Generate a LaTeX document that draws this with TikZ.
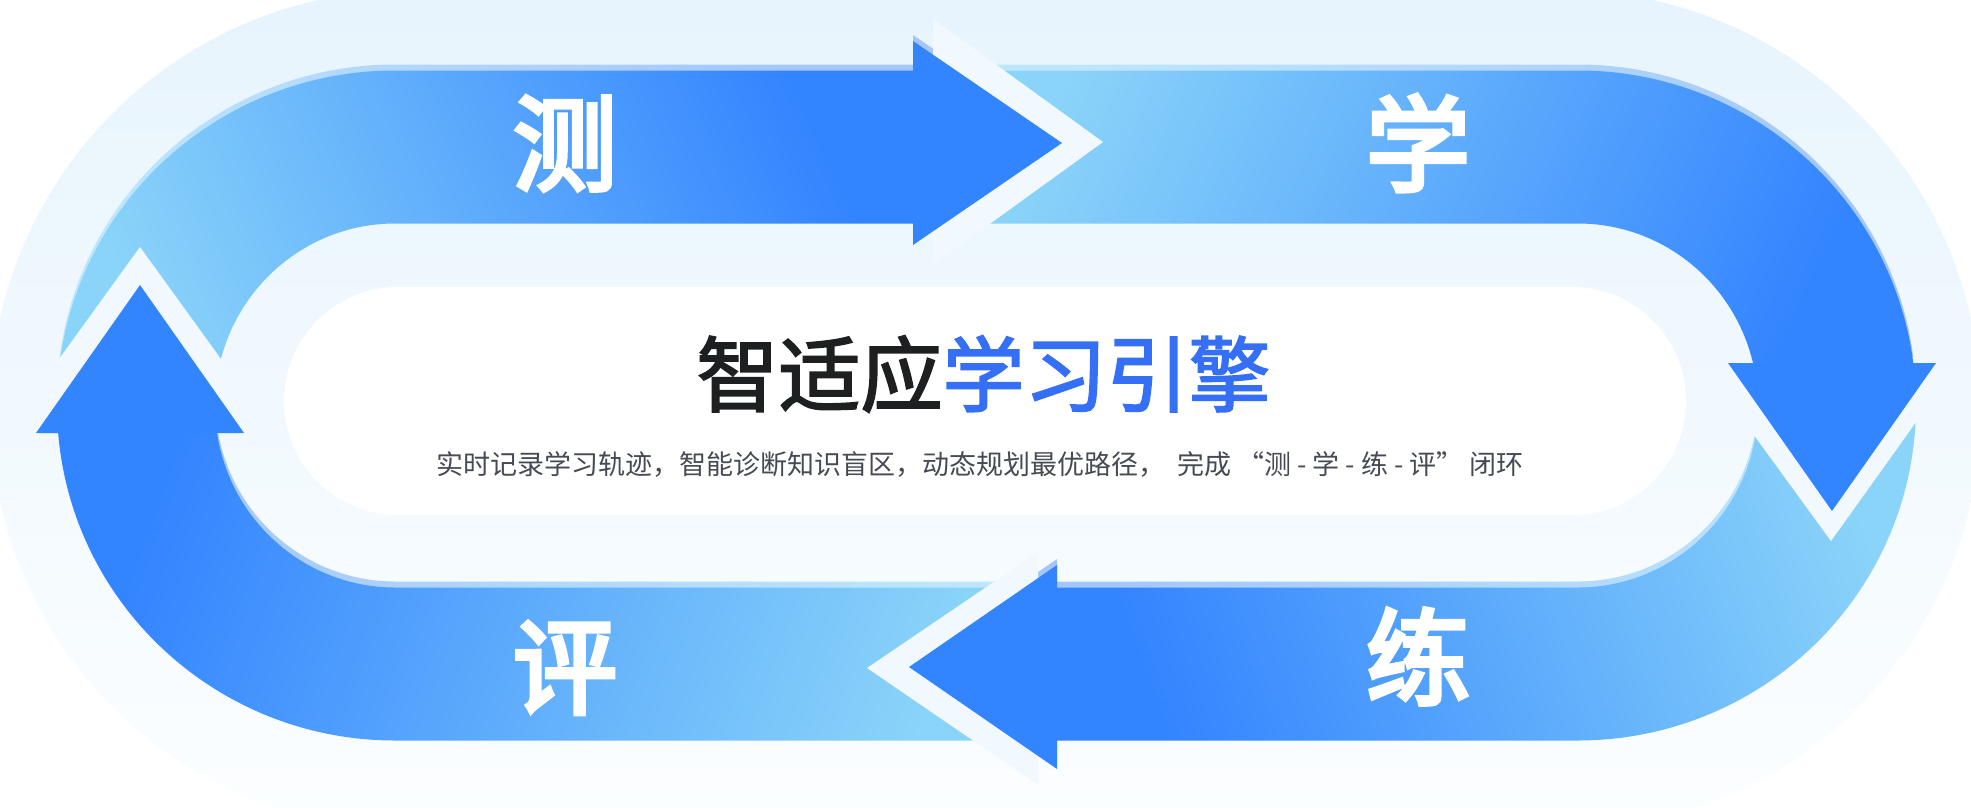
\documentclass[tikz,border=0pt]{standalone}
\usepackage{fontspec}
\newfontfamily\cjk{Noto Sans CJK SC}
\newfontfamily\cjklbl{Noto Sans CJK SC}[FakeBold=4.5]
\newfontfamily\cjkttl{Noto Sans CJK SC}[FakeBold=2.3]
\definecolor{bgtop}{HTML}{E7F4FD}
\definecolor{bgbot}{HTML}{FCFEFF}
\definecolor{cy}{HTML}{8AD4F9}
\definecolor{bl}{HTML}{3384FF}
\definecolor{hcy}{HTML}{BEE7FD}
\definecolor{hbl}{HTML}{A3C7FC}
\definecolor{halo}{HTML}{F2F9FE}
\definecolor{tblack}{HTML}{1E1F21}
\definecolor{tblue}{HTML}{356FF5}
\definecolor{tgray}{HTML}{474A54}
\tikzset{
  cepath/.style={insert path={(57,405.5) arc[start angle=180,end angle=270,x radius=338,y radius=335] -- (913,70.5) -- (913,223.5) -- (395,223.5) arc[start angle=270,end angle=180,x radius=180,y radius=182] -- cycle}},
  xuepath/.style={insert path={(933,70.5) -- (1578,70.5) arc[start angle=-90,end angle=-7.289,x radius=338,y radius=335] -- (1753.0,363) arc[start angle=-13.504,end angle=-90,x radius=180,y radius=182] -- (933,223.5) -- cycle}},
  lianpath/.style={insert path={(1915.2,383) arc[start angle=-3.851,end angle=90,x radius=338,y radius=335] -- (1057,740.5) -- (1057,587.5) -- (1578,587.5) arc[start angle=90,end angle=-7.101,x radius=180,y radius=182] -- cycle}},
  pingpath/.style={insert path={(1038,587.5) -- (1038,740.5) -- (395,740.5) arc[start angle=90,end angle=175.291,x radius=338,y radius=335] -- (217.1,433) arc[start angle=171.309,end angle=90,x radius=180,y radius=182] -- cycle}},
  cehead/.style={insert path={(913,41) -- (1062,143) -- (913,245) -- cycle}},
  xuehead/.style={insert path={(1728,363) -- (1936,363) -- (1832,511) -- cycle}},
  lianhead/.style={insert path={(1057,565) -- (909,667) -- (1057,769) -- cycle}},
  pinghead/.style={insert path={(36,433) -- (140,285) -- (244,433) -- cycle}},
  shce/.style 2 args={top color=#1, bottom color=#2, shading angle=115},
  shxue/.style 2 args={top color=#1, bottom color=#2, shading angle=65},
  shlian/.style 2 args={top color=#1, bottom color=#2, shading angle=-70},
  shping/.style 2 args={top color=#1, bottom color=#2, shading angle=250},
  hilite/.style={shift={(0,-6)}},
  halofill/.style={fill=halo},
  headfill/.style={fill=bl},
  lbl/.style={font=\cjklbl\fontsize{104}{110}\selectfont, text=white, inner sep=0pt},
}
\begin{document}
\begin{tikzpicture}[x=1pt,y=-1pt]
\useasboundingbox (0,0) rectangle (1971,807);
\clip (0,0) rectangle (1971,807);
\fill[white] (0,0) rectangle (1971,807);
% outer light stadium
\shade[top color=bgtop, bottom color=bgbot, rounded corners=420pt] (-10,-10) rectangle (1981,830);
% white centre
\fill[white, rounded corners=114pt] (284,287) rectangle (1686,515);
% highlights
\path[hilite, shce={hcy}{hbl}, cepath];
\path[hilite, shxue={hcy}{hbl}, xuepath];
\path[hilite, shlian={hcy}{hbl}, lianpath];
\path[hilite, shping={hcy}{hbl}, pingpath];
\path[hilite, fill=hbl, cehead];
\path[hilite, fill=hbl, lianhead];
% bands
\path[shce={cy}{bl}, cepath];
\path[shxue={cy}{bl}, xuepath];
\path[shlian={cy}{bl}, lianpath];
\path[shping={cy}{bl}, pingpath];
% halos
\fill[halofill] (933,19) -- (1103,142) -- (933,265) -- cycle;
\fill[halofill] (1716,383) -- (1944,383) -- (1831,541) -- cycle;
\fill[halofill] (1038,552) -- (867,668) -- (1038,785) -- cycle;
\fill[halofill] (20,413) -- (140,247) -- (260,413) -- cycle;
% arrow heads
\path[headfill, cehead];
\path[headfill, xuehead];
\path[headfill, lianhead];
\path[headfill, pinghead];
% labels
\node[lbl] (nce) at (565,143.5) {测};
\node[lbl] (nxue) at (1418,143) {学};
\node[lbl] (nlian) at (1418,656.5) {练};
\node[lbl] (nping) at (565,668) {评};
% title
\node[inner sep=0pt, font=\cjkttl\fontsize{82}{90}\selectfont] (title) at (983.5,374) {\textcolor{tblack}{智适应}\textcolor{tblue}{学习引擎}};
\node[inner sep=0pt, text=tgray, font=\cjk\fontsize{27}{30}\selectfont] (sub) at (980,464) {实时记录学习轨迹，智能诊断知识盲区，动态规划最优路径，\hspace{12pt}完成 “测 - 学 - 练 - 评” 闭环};
\end{tikzpicture}
\end{document}
